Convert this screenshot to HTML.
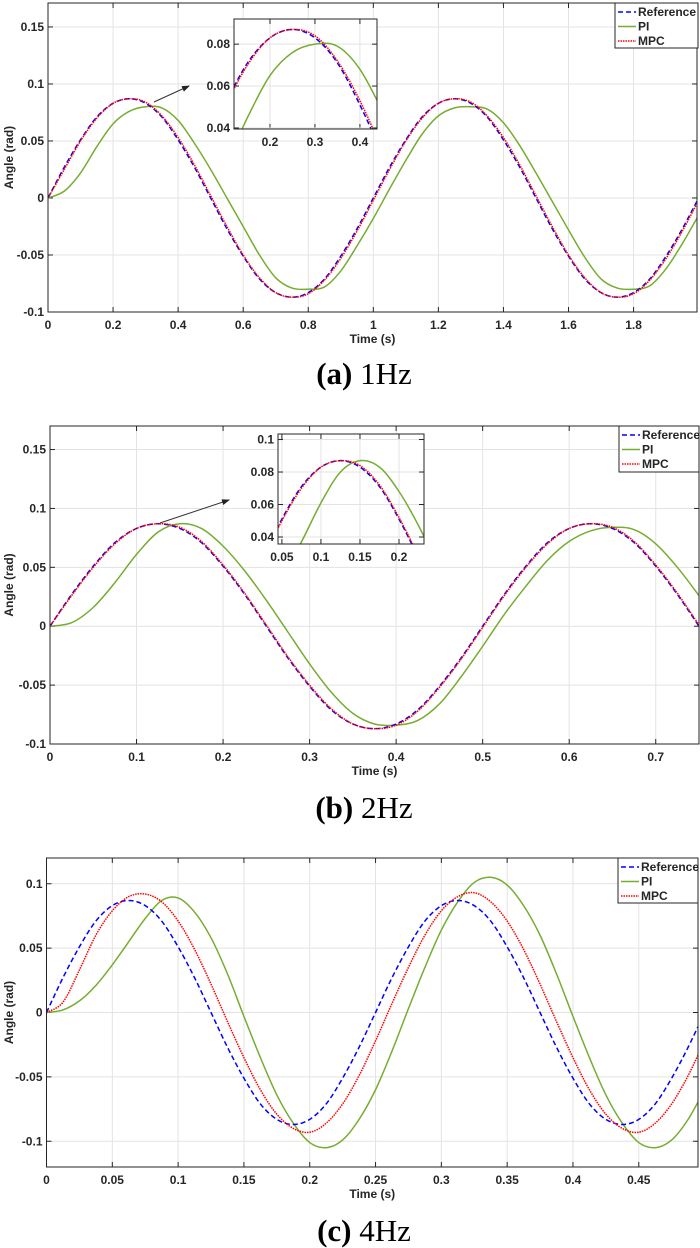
<!DOCTYPE html>
<html><head><meta charset="utf-8"><style>
html,body{margin:0;padding:0;background:#fff;}
svg{display:block;font-family:"Liberation Sans",Arial,sans-serif;}
.tk{font-size:12px;font-weight:bold;fill:#262626;}
.cap{font-family:"Liberation Serif",serif;font-size:31px;fill:#000;}
</style></head><body>
<svg id="fig" width="700" height="1248" viewBox="0 0 700 1248">
<defs>
<marker id="arr" markerWidth="8" markerHeight="8" refX="7" refY="4" orient="auto"><path d="M0,1 L8,4 L0,7 Z" fill="#222"/></marker>
</defs>
<text class="cap" x="364" y="384" text-anchor="middle"><tspan font-weight="bold">(a)</tspan> 1Hz</text>
<text class="cap" x="364" y="818" text-anchor="middle"><tspan font-weight="bold">(b)</tspan> 2Hz</text>
<text class="cap" x="364" y="1241" text-anchor="middle"><tspan font-weight="bold">(c)</tspan> 4Hz</text>
</svg>
<script>
// ---------- data ----------
const timeA = [];
for (let i = 0; i <= 40; i++) timeA.push(+(i*0.05).toFixed(3));
const refA = [0,.027,.051,.071,.083,.087,.083,.071,.051,.027,0,-.027,-.051,-.071,-.083,-.087,-.083,-.071,-.051,-.027,0,.027,.051,.071,.083,.087,.083,.071,.051,.027,0,-.027,-.051,-.071,-.083,-.087,-.083,-.071,-.051,-.027,0];
const mpcA = [0,.025,.050,.070,.083,.087,.084,.072,.053,.029,.002,-.025,-.050,-.070,-.083,-.087,-.084,-.072,-.053,-.029,-.002,.025,.050,.070,.083,.087,.084,.072,.053,.029,.002,-.025,-.050,-.070,-.083,-.087,-.084,-.072,-.053,-.029,-.002];
const piA = [0,.006,.022,.045,.065,.076,.080,.079,.068,.048,.025,0,-.025,-.050,-.070,-.079,-.080,-.078,-.064,-.042,-.018,.008,.033,.056,.072,.079,.080,.078,.066,.046,.022,-.003,-.028,-.052,-.071,-.079,-.080,-.077,-.062,-.040,-.015];

const timeB = [];
for (let i = 0; i <= 30; i++) timeB.push(+(i*0.025).toFixed(4));
const refB = [0,.027,.051,.071,.083,.087,.083,.071,.051,.027,0,-.027,-.051,-.071,-.083,-.087,-.083,-.071,-.051,-.027,0,.027,.051,.071,.083,.087,.083,.071,.051,.027,0];
const mpcB = [0,.026,.050,.070,.083,.087,.084,.072,.052,.028,.001,-.026,-.050,-.070,-.083,-.087,-.084,-.072,-.052,-.028,-.001,.026,.050,.070,.083,.087,.084,.072,.052,.028,.001];
const piB = [0,.003,.016,.037,.061,.080,.087,.083,.068,.047,.022,-.005,-.032,-.056,-.074,-.083,-.084,-.080,-.066,-.043,-.017,.010,.034,.056,.072,.081,.084,.082,.070,.050,.026];

const timeC = [];
for (let i = 0; i <= 40; i++) timeC.push(+(i*0.0125).toFixed(5));
const refC = [0,.027,.051,.071,.083,.087,.083,.071,.051,.027,0,-.027,-.051,-.071,-.083,-.087,-.083,-.071,-.051,-.027,0,.027,.051,.071,.083,.087,.083,.071,.051,.027,0,-.027,-.051,-.071,-.083,-.087,-.083,-.071,-.051,-.027,0];
const mpcC = [0,.008,.033,.060,.079,.090,.092,.086,.071,.049,.022,-.007,-.035,-.060,-.079,-.090,-.093,-.086,-.071,-.049,-.022,.007,.035,.060,.079,.090,.093,.086,.071,.049,.022,-.007,-.035,-.060,-.079,-.090,-.093,-.086,-.071,-.049,-.022];
const piC = [0,.002,.009,.021,.037,.055,.073,.087,.089,.078,.058,.030,-.003,-.035,-.064,-.086,-.101,-.105,-.099,-.083,-.060,-.030,.003,.035,.064,.086,.101,.105,.099,.083,.060,.030,-.003,-.035,-.064,-.086,-.101,-.105,-.099,-.083,-.060];

const xTicksA = [0,0.2,0.4,0.6,0.8,1,1.2,1.4,1.6,1.8];
const xTicksB = [0,0.1,0.2,0.3,0.4,0.5,0.6,0.7];
const xTicksC = [0,0.05,0.1,0.15,0.2,0.25,0.3,0.35,0.4,0.45];
const yTicksAB = [-0.1,-0.05,0,0.05,0.1,0.15];
const yTicksC = [-0.1,-0.05,0,0.05,0.1];
const insetXTicksA = [0.2,0.3,0.4];
const insetYTicksA = [0.04,0.06,0.08];
const insetXTicksB = [0.05,0.1,0.15,0.2];
const insetYTicksB = [0.04,0.06,0.08,0.1];
const legendLabels = ["Reference","PI","MPC"];

// ---------- drawing ----------
const NS = "http://www.w3.org/2000/svg";
const svg = document.getElementById("fig");
let clipId = 0;
function el(tag, attrs, parent) {
  const e = document.createElementNS(NS, tag);
  for (const k in attrs) e.setAttribute(k, attrs[k]);
  (parent || svg).appendChild(e);
  return e;
}
function fmt(v) { return String(+v.toFixed(3)); }
function smooth(pts) {
  let d = "M" + pts[0][0].toFixed(2) + "," + pts[0][1].toFixed(2);
  for (let i = 0; i < pts.length - 1; i++) {
    const p0 = pts[i-1] || pts[i], p1 = pts[i], p2 = pts[i+1], p3 = pts[i+2] || p2;
    const c1x = p1[0] + (p2[0]-p0[0])/6, c1y = p1[1] + (p2[1]-p0[1])/6;
    const c2x = p2[0] - (p3[0]-p1[0])/6, c2y = p2[1] - (p3[1]-p1[1])/6;
    d += " C" + c1x.toFixed(2) + "," + c1y.toFixed(2) + " " + c2x.toFixed(2) + "," + c2y.toFixed(2) + " " + p2[0].toFixed(2) + "," + p2[1].toFixed(2);
  }
  return d;
}
const styles = [
  {stroke:"#0000ff", w:1.5, dash:"5,3", name:"reference"},
  {stroke:"#77ac30", w:1.5, dash:"", name:"pi"},
  {stroke:"#ff0000", w:1.5, dash:"1.5,1", name:"mpc"}
];
function drawAxes(ax, xTicks, yTicks, prefix, inset) {
  const X = v => ax.x0 + (v-ax.xmin)/(ax.xmax-ax.xmin)*(ax.x1-ax.x0);
  const Y = v => ax.y1 - (v-ax.ymin)/(ax.ymax-ax.ymin)*(ax.y1-ax.y0);
  const g = el("g", {});
  
  
  el("rect", {x:ax.x0, y:ax.y0, width:ax.x1-ax.x0, height:ax.y1-ax.y0, fill:"#fff"}, g);
  xTicks.forEach(t => {
    const x = X(t);
    el("line", {x1:x, x2:x, y1:ax.y0, y2:ax.y1, stroke:"#e3e3e3", "stroke-width":1}, g);
    el("line", {x1:x, x2:x, y1:ax.y1, y2:ax.y1-5, stroke:"#262626", "stroke-width":1}, g);
    el("line", {x1:x, x2:x, y1:ax.y0, y2:ax.y0+5, stroke:"#262626", "stroke-width":1}, g);
    const tx = el("text", {x:x, y:ax.y1 + 17, "text-anchor":"middle", class:"tk"}, g);
    
    
    tx.textContent = fmt(t);
  });
  yTicks.forEach(t => {
    const y = Y(t);
    el("line", {x1:ax.x0, x2:ax.x1, y1:y, y2:y, stroke:"#e3e3e3", "stroke-width":1}, g);
    el("line", {x1:ax.x0, x2:ax.x0+5, y1:y, y2:y, stroke:"#262626", "stroke-width":1}, g);
    el("line", {x1:ax.x1, x2:ax.x1-5, y1:y, y2:y, stroke:"#262626", "stroke-width":1}, g);
    const ty = el("text", {x:ax.x0 - 4, y:y + 4, "text-anchor":"end", class:"tk"}, g);
    
    
    ty.textContent = fmt(t);
  });
  return {X, Y, g};
}
function drawSeries(ax, sc, t, series, prefix) {
  const id = "clip" + (clipId++);
  const cp = el("clipPath", {id:id});
  el("rect", {x:ax.x0, y:ax.y0, width:ax.x1-ax.x0, height:ax.y1-ax.y0}, cp);
  const order = [1, 0, 2];
  order.forEach(k => {
    const pts = t.map((tv, i) => [sc.X(tv), sc.Y(series[k][i])]);
    const p = el("path", {d:smooth(pts), fill:"none", stroke:styles[k].stroke, "stroke-width":styles[k].w, "stroke-dasharray":styles[k].dash, "clip-path":"url(#"+id+")"});
    
    
  });
  el("rect", {x:ax.x0, y:ax.y0, width:ax.x1-ax.x0, height:ax.y1-ax.y0, fill:"none", stroke:"#262626", "stroke-width":1});
}
function drawLegend(x, y, w, h, prefix) {
  const g = el("g", {});
  
  
  el("rect", {x:x, y:y, width:w, height:h, fill:"#fff", stroke:"#262626", "stroke-width":1}, g);
  legendLabels.forEach((lab, i) => {
    const ly = y + 9 + i*14.5;
    el("line", {x1:x+3, x2:x+21, y1:ly, y2:ly, stroke:styles[i].stroke, "stroke-width":1.6, "stroke-dasharray":styles[i].dash}, g);
    const tx = el("text", {x:x+23, y:ly+4, class:"tk", "font-size":"11.5"}, g);
    
    
    tx.textContent = lab;
  });
}
function panel(cfg) {
  const sc = drawAxes(cfg.ax, cfg.xt, cfg.yt, cfg.name, false);
  drawSeries(cfg.ax, sc, cfg.t, cfg.s, cfg.name);
  const xl = el("text", {x:(cfg.ax.x0+cfg.ax.x1)/2, y:cfg.ax.y1+31, "text-anchor":"middle", class:"tk", "font-size":"13"});
  
  
  xl.textContent = "Time (s)";
  const cy = (cfg.ax.y0+cfg.ax.y1)/2;
  const yl = el("text", {x:0, y:0, "text-anchor":"middle", class:"tk", "font-size":"13", transform:"translate(13,"+cy+") rotate(-90)"});
  
  
  yl.textContent = "Angle (rad)";
  if (cfg.inset) {
    const a = el("line", {x1:cfg.arrow[0], y1:cfg.arrow[1], x2:cfg.arrow[2], y2:cfg.arrow[3], stroke:"#333", "stroke-width":1, "marker-end":"url(#arr)"});
    
    
    const isc = drawAxes(cfg.inset, cfg.ixt, cfg.iyt, cfg.name, true);
    drawSeries(cfg.inset, isc, cfg.t, cfg.s, cfg.name + '-inset');
  }
  drawLegend(cfg.leg[0], cfg.leg[1], cfg.leg[2], cfg.leg[3], cfg.name);
}
panel({name:"panel-a", ax:{x0:48,x1:697,y0:3,y1:312,xmin:0,xmax:1.995,ymin:-0.1,ymax:0.171},
  xt:xTicksA, yt:yTicksAB, t:timeA, s:[refA,piA,mpcA],
  inset:{x0:234,x1:377,y0:19,y1:129,xmin:0.12,xmax:0.438,ymin:0.0395,ymax:0.092},
  ixt:insetXTicksA, iyt:insetYTicksA, arrow:[154,102,189,86], leg:[615,3,83,45]});
panel({name:"panel-b", ax:{x0:50,x1:699,y0:426,y1:744,xmin:0,xmax:0.75,ymin:-0.1,ymax:0.17},
  xt:xTicksB, yt:yTicksAB, t:timeB, s:[refB,piB,mpcB],
  inset:{x0:278,x1:424,y0:434,y1:544,xmin:0.045,xmax:0.232,ymin:0.0357,ymax:0.1034},
  ixt:insetXTicksB, iyt:insetYTicksB, arrow:[160,523,229,500], leg:[619,426,80,46]});
panel({name:"panel-c", ax:{x0:46.5,x1:698,y0:858,y1:1167,xmin:0,xmax:0.495,ymin:-0.12,ymax:0.12},
  xt:xTicksC, yt:yTicksC, t:timeC, s:[refC,piC,mpcC], leg:[618,858,80,45]});
</script>
</body></html>
